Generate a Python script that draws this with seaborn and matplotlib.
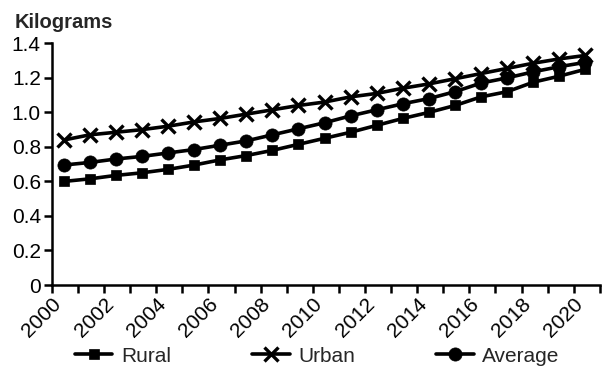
import matplotlib
matplotlib.use("Agg")
import matplotlib.pyplot as plt
import seaborn as sns
import numpy as np
import pandas as pd

# Datos (kilogramos por anio)
anios = list(range(2000, 2021))
rural = [0.60, 0.615, 0.635, 0.65, 0.67, 0.695, 0.725, 0.75, 0.78, 0.815, 0.85,
         0.885, 0.925, 0.965, 1.00, 1.04, 1.09, 1.12, 1.175, 1.21, 1.25]
urban = [0.84, 0.87, 0.885, 0.90, 0.92, 0.945, 0.965, 0.99, 1.015, 1.04, 1.06,
         1.09, 1.11, 1.14, 1.165, 1.195, 1.225, 1.255, 1.285, 1.31, 1.33]
average = [0.695, 0.71, 0.73, 0.745, 0.765, 0.785, 0.81, 0.835, 0.87, 0.905, 0.94,
           0.98, 1.015, 1.05, 1.08, 1.12, 1.17, 1.20, 1.235, 1.265, 1.29]

series = ['Rural', 'Urban', 'Average']
marcadores = {'Rural': 's', 'Urban': 'x', 'Average': 'o'}
tamanos = {'Rural': 7.5, 'Urban': 9.5, 'Average': 9.5}

df = pd.DataFrame({'anio': anios, 'Rural': rural, 'Urban': urban, 'Average': average})

sns.set_style("ticks")
plt.rcParams['font.family'] = ['Liberation Sans', 'DejaVu Sans']

fig = plt.figure(figsize=(6.04, 3.77), dpi=100)
ax = fig.add_axes([0.086, 0.244, 0.907, 0.641])

# los puntos van a mitad de cada anio, como en el original
x = df['anio'] + 0.45
for s in series:
    sns.lineplot(x=x, y=df[s], ax=ax, color='black', linewidth=1.9,
                 marker=marcadores[s], markersize=tamanos[s],
                 markeredgewidth=2.4 if s == 'Urban' else 0.5,
                 markeredgecolor='black', label=s)

ax.set_xlim(2000, 2021)
ax.set_ylim(0, 1.4)
ax.set_xticks(range(2000, 2021, 2))
ax.set_xticks(range(2000, 2022), minor=True)
ax.set_xticklabels([str(a) for a in range(2000, 2021, 2)], rotation=45,
                   ha='right', va='top', rotation_mode='anchor', fontsize=15.5)
ax.set_yticks([0, 0.2, 0.4, 0.6, 0.8, 1.0, 1.2, 1.4])
ax.set_yticklabels(['0', '0.2', '0.4', '0.6', '0.8', '1.0', '1.2', '1.4'])
ax.tick_params(axis='both', which='both', direction='out', width=1.8,
               color='black', labelsize=15, labelcolor='black')
ax.tick_params(axis='both', which='major', length=6)
ax.tick_params(axis='x', which='minor', length=6)
ax.tick_params(axis='x', which='major', pad=1)
ax.tick_params(axis='y', which='major', pad=2)
ax.set_xlabel('')
ax.set_ylabel('')
for lado in ['top', 'right']:
    ax.spines[lado].set_visible(False)
for lado in ['left', 'bottom']:
    ax.spines[lado].set_linewidth(1.8)
    ax.spines[lado].set_color('black')

fig.text(0.025, 0.94, 'Kilograms', fontsize=14.5, fontweight='bold', ha='left', va='center')

ax.get_legend().remove()
handles, labels = ax.get_legend_handles_labels()
for h in handles:
    h.set_linewidth(2.6)
fig.legend(handles, labels, loc='lower center', bbox_to_anchor=(0.525, -0.02),
           ncol=3, frameon=False, fontsize=15, handlelength=1.8,
           columnspacing=3.9, handletextpad=0.4)

fig.savefig('out.png', dpi=100)
